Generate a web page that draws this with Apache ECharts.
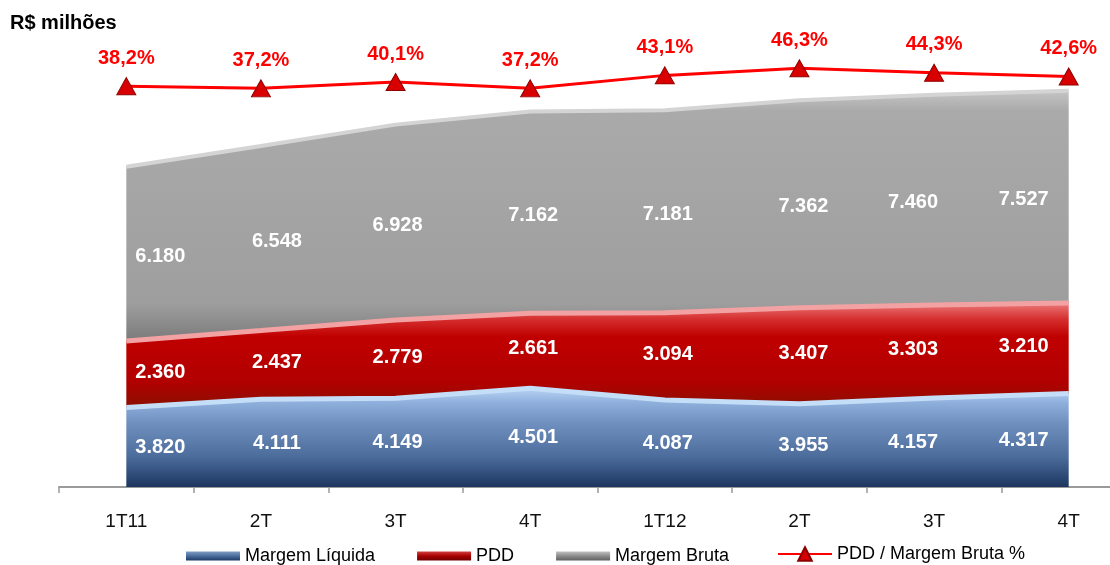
<!DOCTYPE html>
<html>
<head>
<meta charset="utf-8">
<script src="https://cdn.jsdelivr.net/npm/echarts@6/dist/echarts.min.js"></script>
<style>
  html, body { margin: 0; padding: 0; background: #fff; }
  #chart { width: 1110px; height: 565px; }
</style>
</head>
<body>
<div id="chart"></div>
<script>
// trimestres
const categorias = ['1T11', '2T', '3T', '4T', '1T12', '2T', '3T', '4T'];
// R$ milhões
const margemLiquida = [3820, 4111, 4149, 4501, 4087, 3955, 4157, 4317];
const pdd = [2360, 2437, 2779, 2661, 3094, 3407, 3303, 3210];
const margemBruta = [6180, 6548, 6928, 7162, 7181, 7362, 7460, 7527];
// PDD / Margem Bruta %
const pddPct = [38.2, 37.2, 40.1, 37.2, 43.1, 46.3, 44.3, 42.6];

// deslocamento horizontal dos rótulos (mantém dentro da área)
const labelDx = [34, 16, 2, 3, 3, 4, -21, -45];

const FONT = 'Liberation Sans, Arial, sans-serif';
const Y_MIN = 1000, Y_MAX = 17000;
const GRID_TOP = 36, GRID_BOTTOM = 78, CHART_H = 565;
// pixels por R$ milhão, para centralizar o rótulo na faixa
const K = (CHART_H - GRID_TOP - GRID_BOTTOM) / (Y_MAX - Y_MIN);

const fmtMil = function (v) {
    return String(v).replace(/\B(?=(\d{3})+(?!\d))/g, '.');
};

const grad = function (stops) {
    return new echarts.graphic.LinearGradient(0, 0, 0, 1,
        stops.map(s => ({offset: s[0], color: s[1]})));
};

// rótulo no meio da faixa: offset = metade da altura da faixa
const areaData = function (values, base, extra) {
    return values.map((v, i) => ({
        value: v,
        label: {offset: [labelDx[i], (v - base) * K / 2 + extra]}
    }));
};

const areaLabel = {
    show: true,
    position: 'inside',
    color: '#fff',
    fontFamily: FONT,
    fontWeight: 'bold',
    fontSize: 20,
    formatter: p => fmtMil(p.value)
};

const chart = echarts.init(document.getElementById('chart'));

const option = {
    backgroundColor: '#fff',
    animation: false,
    title: {
        text: 'R$ milhões',
        left: 5,
        top: 8,
        textStyle: {fontFamily: FONT, fontWeight: 'bold', fontSize: 20, color: '#000'}
    },
    legend: [{
        left: 181,
        top: 542,
        itemWidth: 54,
        itemHeight: 9,
        itemGap: 42,
        textStyle: {fontFamily: FONT, fontSize: 18, color: '#000'},
        data: [
            {name: 'Margem Líquida', icon: 'rect',
                itemStyle: {color: grad([[0, '#7f9cc4'], [0.5, '#4a6c9c'], [1, '#1f3a66']])}},
            {name: 'PDD', icon: 'rect',
                itemStyle: {color: grad([[0, '#d04040'], [0.5, '#a80000'], [1, '#700000']])}},
            {name: 'Margem Bruta', icon: 'rect',
                itemStyle: {color: grad([[0, '#c0c0c0'], [0.5, '#8c8c8c'], [1, '#606060']])}}
        ]
    }, {
        left: 772,
        top: 540,
        itemWidth: 54,
        itemHeight: 17,
        textStyle: {fontFamily: FONT, fontSize: 18, color: '#000'},
        data: ['PDD / Margem Bruta %']
    }],
    grid: {left: 59, width: 1077, top: GRID_TOP, bottom: GRID_BOTTOM, outerBoundsMode: 'none', containLabel: false},
    xAxis: {
        type: 'category',
        data: categorias,
        boundaryGap: true,
        axisLine: {onZero: false, lineStyle: {color: '#9a9a9a', width: 2}},
        axisTick: {show: true, length: 6, lineStyle: {color: '#9a9a9a', width: 1.5}},
        axisLabel: {margin: 25, fontFamily: FONT, fontSize: 19, color: '#111'}
    },
    yAxis: [{
        type: 'value',
        min: Y_MIN,
        max: Y_MAX,
        show: false,
        splitLine: {show: false}
    }, {
        type: 'value',
        min: -144,
        max: 61,
        show: false,
        splitLine: {show: false}
    }],
    series: [{
        name: 'Margem Líquida',
        type: 'line',
        stack: 'total',
        symbol: 'circle',
        symbolSize: 0.1,
        z: 2,
        lineStyle: {width: 5, color: '#c4def8'},
        itemStyle: {color: '#4a6c9c'},
        areaStyle: {
            opacity: 1,
            color: grad([[0, '#b8d4f4'], [0.15, '#8eaedb'], [0.35, '#7090c0'], [0.7, '#4b6b9b'], [1, '#1c3560']])
        },
        label: areaLabel,
        data: areaData(margemLiquida, Y_MIN, 0)
    }, {
        name: 'PDD',
        type: 'line',
        stack: 'total',
        symbol: 'circle',
        symbolSize: 0.1,
        z: 2,
        lineStyle: {width: 5, color: '#f2a2a2'},
        itemStyle: {color: '#b00000'},
        areaStyle: {
            opacity: 1,
            color: grad([[0, '#ec7a7a'], [0.15, '#d63030'], [0.32, '#c00000'], [0.75, '#b20000'], [1, '#8a1000']])
        },
        label: areaLabel,
        data: areaData(pdd, 0, -2)
    }, {
        name: 'Margem Bruta',
        type: 'line',
        stack: 'total',
        symbol: 'circle',
        symbolSize: 0.1,
        z: 2,
        lineStyle: {width: 4, color: '#d4d4d4'},
        itemStyle: {color: '#8c8c8c'},
        areaStyle: {
            opacity: 1,
            color: grad([[0, '#c4c4c4'], [0.08, '#aaaaaa'], [0.85, '#9e9e9e'], [1, '#7a7a7a']])
        },
        label: areaLabel,
        data: areaData(margemBruta, 0, 3)
    }, {
        name: 'PDD / Margem Bruta %',
        type: 'line',
        yAxisIndex: 1,
        z: 5,
        symbol: 'triangle',
        symbolSize: [19, 17],
        lineStyle: {width: 3, color: '#ff0000'},
        itemStyle: {color: '#d80000', borderColor: '#8c0000', borderWidth: 1},
        label: {
            show: true,
            position: 'top',
            distance: 9,
            color: '#ff0000',
            fontFamily: FONT,
            fontWeight: 'bold',
            fontSize: 20,
            formatter: p => p.value.toFixed(1).replace('.', ',') + '%'
        },
        data: pddPct
    }]
};

chart.setOption(option);
</script>
</body>
</html>
